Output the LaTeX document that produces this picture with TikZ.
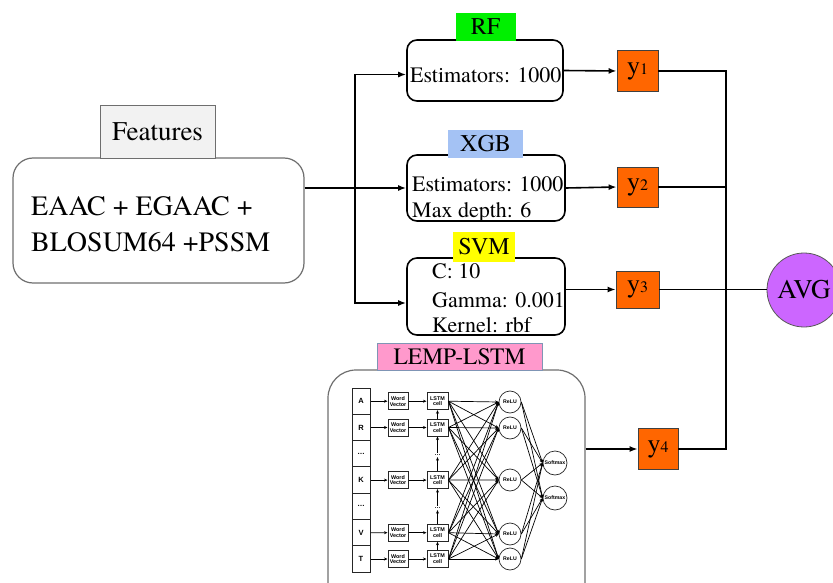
\documentclass[tikz,border=0pt]{standalone}
\usepackage{fontspec}
\setmainfont{texgyretermes-regular.otf}
\newfontfamily\netfont{Liberation Sans}
\usetikzlibrary{arrows.meta,calc}
\definecolor{rfgreen}{HTML}{00F000}
\definecolor{xgbblue}{HTML}{A4C2F4}
\definecolor{svmyellow}{HTML}{FFFF00}
\definecolor{lemppink}{HTML}{FF99CC}
\definecolor{lempedge}{HTML}{7F95B5}
\definecolor{yorange}{HTML}{FF6600}
\definecolor{avgpurple}{HTML}{CC66FF}
\definecolor{featgray}{HTML}{F2F2F2}
\definecolor{boxgray}{HTML}{6E6E6E}
\newcommand\bigtxt[2]{{\fontsize{#1}{#1}\selectfont #2}}
\newcommand\ylab[1]{\bigtxt{26}{y}\bigtxt{16}{#1}}
\begin{document}
\begin{tikzpicture}[x=1pt,y=-1pt,
  conn/.style={line width=1.6pt},
  arr/.style={line width=1.6pt,-{Latex[length=8pt,width=6pt]}},
  narr/.style={line width=0.7pt,-{Stealth[length=3.5pt,width=3pt]}},
  mbox/.style={draw=black,line width=1.6pt,rounded corners=10pt,inner sep=0pt},
  tab/.style={inner sep=0pt},
  mtext/.style={anchor=base west,inner sep=0pt,font=\fontsize{22}{22}\selectfont},
  ftext/.style={anchor=base west,inner sep=0pt},
  ybox/.style={draw=black!75,line width=0.8pt,fill=yorange,inner sep=0pt},
  seqcell/.style={draw=black!85,line width=1pt,minimum width=18pt,minimum height=26.3pt,inner sep=0pt,font=\netfont\bfseries\fontsize{7.5}{7.5}\selectfont},
  smallbox/.style={draw=black!85,line width=1pt,minimum height=17pt,inner sep=0pt,align=center,font=\netfont\bfseries\fontsize{5.4}{5.8}\selectfont},
  neuron/.style={circle,draw=black!85,line width=0.7pt,minimum size=22pt,inner sep=0pt,font=\netfont\bfseries\fontsize{5.2}{5.2}\selectfont},
  dots/.style={inner sep=1.5pt,font=\netfont\bfseries\fontsize{6}{6}\selectfont}
]
\useasboundingbox (0,0) rectangle (833,583);
\clip (0,0) rectangle (833,583);

% ---------- Features ----------
\node[draw=boxgray,line width=1.2pt,rounded corners=20pt,minimum width=291pt,minimum height=125pt] (features) at (158.5,220.5) {};
\node[ftext] (ft1) at (31,215) {\bigtxt{28}{EAAC + EGAAC +}};
\node[ftext] (ft2) at (31,251) {\bigtxt{28}{BLOSUM64 +PSSM}};
\node[tab,draw=boxgray,line width=0.8pt,fill=featgray,minimum width=115pt,minimum height=53pt] (ftab) at (157.5,131.5) {\bigtxt{27}{Features}};

% ---------- model boxes ----------
\node[mbox,minimum width=156pt,minimum height=61pt] (rf) at (485,70.5) {};
\node[mbox,minimum width=158pt,minimum height=66pt] (xgb) at (486,188) {};
\node[mbox,minimum width=158pt,minimum height=77pt] (svm) at (486,296.5) {};

\node[mtext] (rft) at (410,83) {Estimators: 1000};
\node[mtext] (xgbt1) at (412,192) {Estimators: 1000};
\node[mtext] (xgbt2) at (412,218) {Max depth: 6};
\node[mtext] (svmt1) at (432,278) {C: 10};
\node[mtext] (svmt2) at (432,307) {Gamma: 0.001};
\node[mtext] (svmt3) at (432,332) {Kernel: rbf};

\node[tab,fill=rfgreen,minimum width=60pt,minimum height=28pt] (rftab) at (485.5,27) {\bigtxt{24}{RF}};
\node[tab,fill=xgbblue,minimum width=75pt,minimum height=28pt] (xgbtab) at (485.5,144) {\bigtxt{24}{XGB}};
\node[tab,fill=svmyellow,minimum width=62pt,minimum height=30pt] (svmtab) at (484,247) {\bigtxt{24}{SVM}};

% ---------- LEMP-LSTM ----------
\node[draw=boxgray,line width=1.2pt,rounded corners=28pt,minimum width=257pt,minimum height=240pt] (lemp) at (456.5,490) {};
\node[tab,draw=lempedge,line width=1pt,fill=lemppink,minimum width=165pt,minimum height=27pt] (lemptab) at (459.5,356.5) {\bigtxt{23.5}{LEMP-LSTM}};

% sequence column
\node[seqcell] (s1) at (361,401.2) {A};
\node[seqcell] (s2) at (361,427.5) {R};
\node[seqcell] (s3) at (361,453.8) {\ldots};
\node[seqcell] (s4) at (361,480.1) {K};
\node[seqcell] (s5) at (361,506.4) {\ldots};
\node[seqcell] (s6) at (361,532.7) {V};
\node[seqcell] (s7) at (361,559.0) {T};
\foreach \i in {1,2,4,6,7}{
  \node[smallbox,minimum width=20pt] (w\i) at (398,{401.2+26.3*(\i-1)}) {Word\\Vector};
  \node[smallbox,minimum width=21pt] (c\i) at (437.5,{401.2+26.3*(\i-1)}) {LSTM\\cell};
  \draw[narr] (s\i) -- (w\i);
  \draw[narr] (w\i) -- (c\i);
}
\node[dots] (d3) at (437.5,455) {\ldots};
\node[dots] (d5) at (437.5,508) {\ldots};
\draw[narr] (c2.north) -- (c1.south);
\draw[narr] (d3) -- (c2.south);
\draw[narr] (c4.north) -- (d3);
\draw[narr] (d5) -- (c4.south);
\draw[narr] (c6.north) -- (d5);
\draw[narr] (c7.north) -- (c6.south);

\node[neuron] (r1) at (510,402) {ReLU};
\node[neuron] (r2) at (510,428) {ReLU};
\node[neuron] (r3) at (510,480) {ReLU};
\node[neuron] (r4) at (510,534) {ReLU};
\node[neuron] (r5) at (510,559) {ReLU};
\node[neuron,minimum size=24pt] (m1) at (555,463) {Softmax};
\node[neuron,minimum size=24pt] (m2) at (555,498) {Softmax};

\foreach \a in {1,2,4,6,7}{
  \foreach \b in {1,2,3,4,5}{
    \draw[narr] (c\a.east) -- (r\b.west);
  }
}
\foreach \b in {1,2,3,4,5}{
  \draw[narr] (r\b.east) -- (m1.west);
  \draw[narr] (r\b.east) -- (m2.west);
}

% ---------- outputs ----------
\node[ybox,minimum width=41pt,minimum height=41pt] (y1) at (637.5,71) {\ylab{1}};
\node[ybox,minimum width=41pt,minimum height=40pt] (y2) at (637.5,187) {\ylab{2}};
\node[ybox,minimum width=43pt,minimum height=37pt] (y3) at (637.5,289.5) {\ylab{3}};
\node[ybox,minimum width=40pt,minimum height=41pt] (y4) at (658,449) {\ylab{4}};

\node[circle,draw=black!65,line width=0.8pt,fill=avgpurple,minimum size=74pt,inner sep=0pt] (avg) at (804,290) {\bigtxt{27}{AVG}};

% ---------- connectors ----------
\coordinate (fork) at (355,188);
\coordinate (bus) at (726,71);
\draw[conn] (fork -| features.east) -- (fork);
\draw[arr] (fork) -- (xgb.west);
\draw[arr] (fork) |- ([yshift=-4pt]rf.west);
\draw[arr] (fork) |- ([yshift=-6.5pt]svm.west);

\draw[arr] (rf.east) -- (y1.west);
\draw[arr] (xgb.east) -- (y2.west);
\draw[arr] (svm.east |- y3.west) -- (y3.west);
\draw[arr] (lemp.east |- y4.west) -- (y4.west);

\draw[conn] (y1.east) -- (y1.east -| bus) -- (y4.east -| bus) -- (y4.east);
\draw[conn] (y2.east) -- (y2.east -| bus);
\draw[conn] (y3.east) -- (y3.east -| avg.west);
\end{tikzpicture}
\end{document}
